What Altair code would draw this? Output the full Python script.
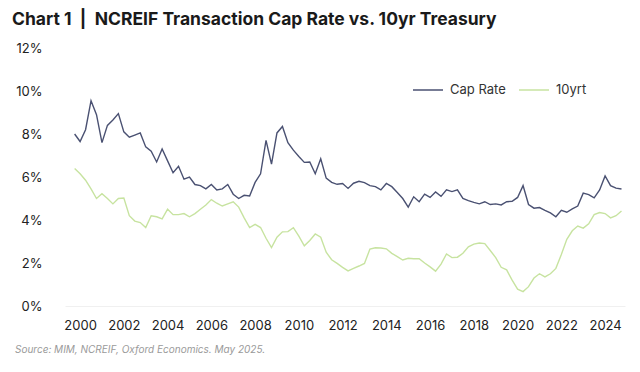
import altair as alt
import pandas as pd

# Quarterly observations, first quarter ~ 2000 Q1 (plotted as decimal years)
start_year = 1999.75
cap_rate = [8.0, 7.65, 8.2, 9.55, 8.9, 7.6, 8.4, 8.65, 8.95, 8.1,
            7.85, 7.95, 8.05, 7.4, 7.2, 6.7, 7.3, 6.75, 6.2, 6.5,
            5.9, 6.0, 5.65, 5.6, 5.45, 5.65, 5.4, 5.45, 5.65, 5.2,
            5.0, 5.15, 5.12, 5.75, 6.15, 7.7, 6.6, 8.05, 8.35, 7.6,
            7.25, 6.95, 6.68, 6.7, 6.15, 6.85, 5.95, 5.75, 5.66, 5.7,
            5.47, 5.71, 5.8, 5.74, 5.6, 5.55, 5.4, 5.7, 5.55, 5.28,
            5.0, 4.6, 5.08, 4.85, 5.2, 5.05, 5.3, 5.1, 5.4, 5.32,
            5.4, 5.0, 4.9, 4.82, 4.75, 4.85, 4.72, 4.75, 4.7, 4.85,
            4.87, 5.05, 5.6, 4.72, 4.55, 4.58, 4.45, 4.33, 4.15, 4.45,
            4.36, 4.52, 4.65, 5.25, 5.18, 5.03, 5.4, 6.05, 5.6, 5.48,
            5.44, 5.68]
treasury_10yr = [6.4, 6.15, 5.85, 5.45, 5.0, 5.22, 5.0, 4.75, 5.0, 5.02,
                 4.2, 3.95, 3.88, 3.65, 4.2, 4.15, 4.05, 4.5, 4.25, 4.25,
                 4.3, 4.15, 4.3, 4.5, 4.7, 4.95, 4.78, 4.65, 4.75, 4.85,
                 4.6, 4.1, 3.65, 3.8, 3.65, 3.15, 2.72, 3.2, 3.45, 3.46,
                 3.64, 3.25, 2.8, 3.05, 3.35, 3.2, 2.5, 2.15, 1.98, 1.8,
                 1.63, 1.75, 1.86, 1.98, 2.65, 2.71, 2.7, 2.66, 2.45, 2.3,
                 2.14, 2.22, 2.2, 2.2, 2.0, 1.82, 1.62, 1.95, 2.42, 2.25,
                 2.27, 2.45, 2.75, 2.88, 2.93, 2.9, 2.58, 2.25, 1.8, 1.68,
                 1.2, 0.78, 0.67, 0.9, 1.3, 1.5, 1.35, 1.5, 1.75, 2.4,
                 3.1, 3.5, 3.72, 3.62, 3.82, 4.25, 4.35, 4.3, 4.1, 4.2,
                 4.42]
n = min(len(cap_rate), len(treasury_10yr))
cap_rate = cap_rate[:n]
treasury_10yr = treasury_10yr[:n]
dates = [start_year + 0.25 * i for i in range(n)]

series_names = ["Cap Rate", "10yrt"]
series_colors = ["#4a5172", "#c7e3a0"]
x_ticks = list(range(2000, 2025, 2))
y_ticks = [0, 2, 4, 6, 8, 10, 12]
title_text = "Chart 1\u00a0\u00a0|\u00a0\u00a0NCREIF Transaction Cap Rate vs. 10yr Treasury"
source_text = "Source: MIM, NCREIF, Oxford Economics. May 2025."

rows = []
for d, c, t in zip(dates, cap_rate, treasury_10yr):
    rows.append({"date": d, "series": "Cap Rate", "value": c})
    rows.append({"date": d, "series": "10yrt", "value": t})
df = pd.DataFrame(rows)

FONT = "Inter"
W, H = 560, 258

lines = alt.Chart(df).mark_line(strokeWidth=1.4).encode(
    x=alt.X("date:Q",
            scale=alt.Scale(domain=[1999.31, 2024.91], nice=False, zero=False),
            axis=alt.Axis(values=x_ticks, format="d", title=None, grid=False,
                          ticks=False, domain=True, domainColor="#f0f0f0",
                          labelFontSize=13, labelColor="#222222", labelFont=FONT,
                          labelPadding=13, labelFlush=False)),
    y=alt.Y("value:Q",
            scale=alt.Scale(domain=[0, 12], nice=False),
            axis=alt.Axis(values=y_ticks, labelExpr="datum.value + '%'", title=None,
                          grid=False, ticks=False, domain=False,
                          labelFontSize=13, labelColor="#222222", labelFont=FONT,
                          labelPadding=23)),
    color=alt.Color("series:N",
                    scale=alt.Scale(domain=series_names, range=series_colors),
                    legend=alt.Legend(orient="none", legendX=347, legendY=26,
                                      direction="horizontal", title=None,
                                      symbolType="stroke", symbolSize=900,
                                      symbolStrokeWidth=1.5, labelFontSize=13,
                                      labelFont=FONT, labelColor="#333333",
                                      labelOffset=6, columnPadding=10)),
    detail="series:N",
)

source = alt.Chart(pd.DataFrame({"t": [source_text]})).mark_text(
    align="left", baseline="middle", fontStyle="italic", fontSize=10,
    font=FONT, color="#9a9a9a"
).encode(text="t:N", x=alt.value(-50), y=alt.value(302))

chart = alt.layer(lines, source).properties(
    width=W, height=H,
    title=alt.TitleParams(title_text, anchor="start", frame="group", dx=-53,
                          offset=14, fontSize=17.5, fontWeight="bold",
                          font=FONT, color="#1a1a1a"),
    autosize=alt.AutoSizeParams(type="none"),
    padding={"left": 57, "top": 40, "right": 7, "bottom": 58},
).configure_view(stroke=None)

chart.save("out.html", embed_options={"renderer": "svg", "actions": False})
